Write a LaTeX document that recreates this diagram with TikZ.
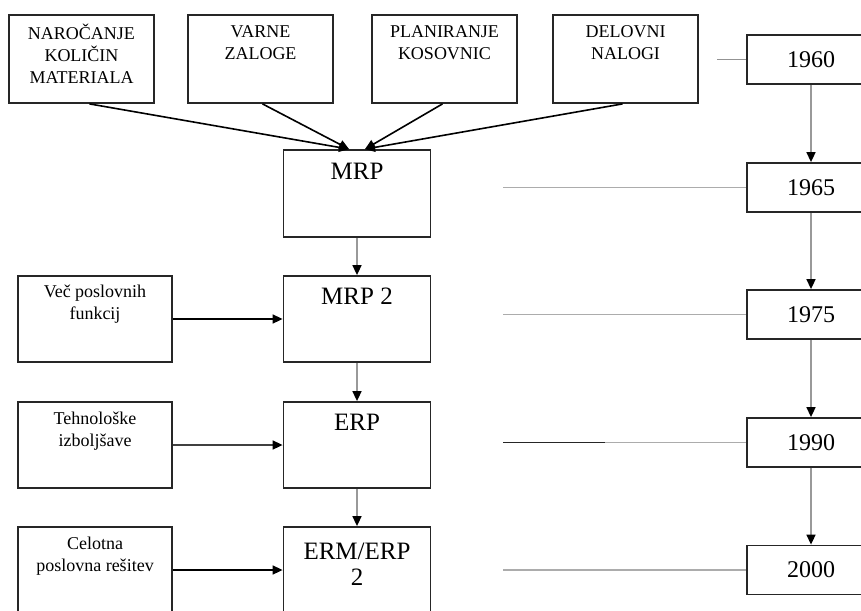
\documentclass[tikz,border=0pt]{standalone}
\usepackage{fontspec}
\setmainfont{Liberation Serif}
\usetikzlibrary{arrows.meta,calc}
\begin{document}
\begin{tikzpicture}[x=1pt,y=-1pt,
 box/.style={draw=black!85,line width=1.8pt,inner sep=0pt},
 topbox/.style={box,minimum width=145pt,minimum height=88pt},
 sidebox/.style={box,minimum width=154pt,minimum height=86pt},
 mainbox/.style={box,minimum width=147pt,minimum height=86pt},
 yearbox/.style={box,minimum width=128pt,minimum height=49pt,font=\fontsize{24}{26}\selectfont},
 smalltxt/.style={align=center,font=\fontsize{18}{22}\selectfont,inner sep=0pt},
 bigtxt/.style={align=center,font=\fontsize{25}{26}\selectfont,inner sep=0pt},
 arr/.style={line width=1.6pt,-{Triangle[length=10pt,width=9pt,color=black]}},
 garr/.style={arr,draw=gray!80},
 gline/.style={line width=1.6pt,draw=gray!65},
]
\useasboundingbox (0,0) rectangle (861,610);
\clip (0,0) rectangle (861,610);

% top boxes
\node[topbox] (nar) at (81.5,59) {};
\node[topbox] (var) at (260.5,59) {};
\node[topbox] (pla) at (444.5,59) {};
\node[topbox] (del) at (625.5,59) {};
\node[smalltxt] (narT) at ($(nar.north)+(0,40)$) {NAROČANJE\\KOLIČIN\\MATERIALA};
\node[smalltxt] (varT) at ($(var.north)+(0,29)$) {VARNE\\ZALOGE};
\node[smalltxt] (plaT) at ($(pla.north)+(0,29)$) {PLANIRANJE\\KOSOVNIC};
\node[smalltxt] (delT) at ($(del.north)+(0,29)$) {DELOVNI\\NALOGI};

% main column
\node[mainbox,minimum height=87pt] (mrp) at (357,193.5) {};
\node[mainbox] (mrp2) at (357,319) {};
\node[mainbox] (erp) at (357,445) {};
\node[mainbox] (erm) at (357,570) {};
\node[bigtxt] (mrpT) at ($(mrp.north)+(0,22)$) {MRP};
\node[bigtxt] (mrp2T) at ($(mrp2.north)+(0,21)$) {MRP 2};
\node[bigtxt] (erpT) at ($(erp.north)+(0,21)$) {ERP};
\node[bigtxt] (ermT) at ($(erm.north)+(0,38)$) {ERM/ERP\\2};

% side boxes
\node[sidebox] (s1) at (95,319) {};
\node[sidebox] (s2) at (95,445) {};
\node[sidebox] (s3) at (95,570) {};
\node[smalltxt] (s1T) at ($(s1.north)+(0,29)$) {Več poslovnih\\funkcij};
\node[smalltxt] (s2T) at ($(s2.north)+(0,30)$) {Tehnološke\\izboljšave};
\node[smalltxt] (s3T) at ($(s3.north)+(0,30)$) {Celotna\\poslovna rešitev};

% year boxes
\node[yearbox] (y0) at (811,59.5) {1960};
\node[yearbox] (y1) at (811,187.5) {1965};
\node[yearbox] (y2) at (811,314.5) {1975};
\node[yearbox] (y3) at (811,442.5) {1990};
\node[yearbox] (y4) at (811,570) {2000};

% converging arrows into MRP
\coordinate (mA) at ($(mrp.north)+(-8,0)$);
\coordinate (mB) at ($(mrp.north)+(8,0)$);
\draw[arr] ($(nar.south)+(8,0)$) -- (mA);
\draw[arr] ($(var.south)+(2,0)$) -- (mA);
\draw[arr] ($(pla.south)+(-2,0)$) -- (mB);
\draw[arr] ($(del.south)+(-3,0)$) -- (mB);

% main chain
\draw[garr] (mrp.south) -- (mrp2.north);
\draw[garr] (mrp2.south) -- (erp.north);
\draw[garr] (erp.south) -- (erm.north);

% side arrows
\draw[arr] (s1.east) -- (mrp2.west);
\draw[arr,draw=black!75] (s2.east) -- (erp.west);
\draw[arr] (s3.east) -- (erm.west);

% timeline
\draw[garr] (y0.south) -- (y1.north);
\draw[garr] (y1.south) -- (y2.north);
\draw[garr] (y2.south) -- (y3.north);
\draw[garr] (y3.south) -- (y4.north);

\coordinate (t0) at (717,59.5);
\coordinate (t1) at (503,187.5);
\coordinate (t2) at (503,314.5);
\coordinate (t3) at (503,442.5);
\coordinate (t3b) at (605,442.5);
\coordinate (t4) at (503,570);
\draw[gline,draw=gray!85] (t0) -- (y0.west);
\draw[gline] (t1) -- (y1.west);
\draw[gline] (t2) -- (y2.west);
\draw[gline] (t3b) -- (y3.west);
\draw[line width=1.6pt,draw=black!85] (t3) -- (t3b);
\draw[gline] (t4) -- (y4.west);
\end{tikzpicture}
\end{document}
